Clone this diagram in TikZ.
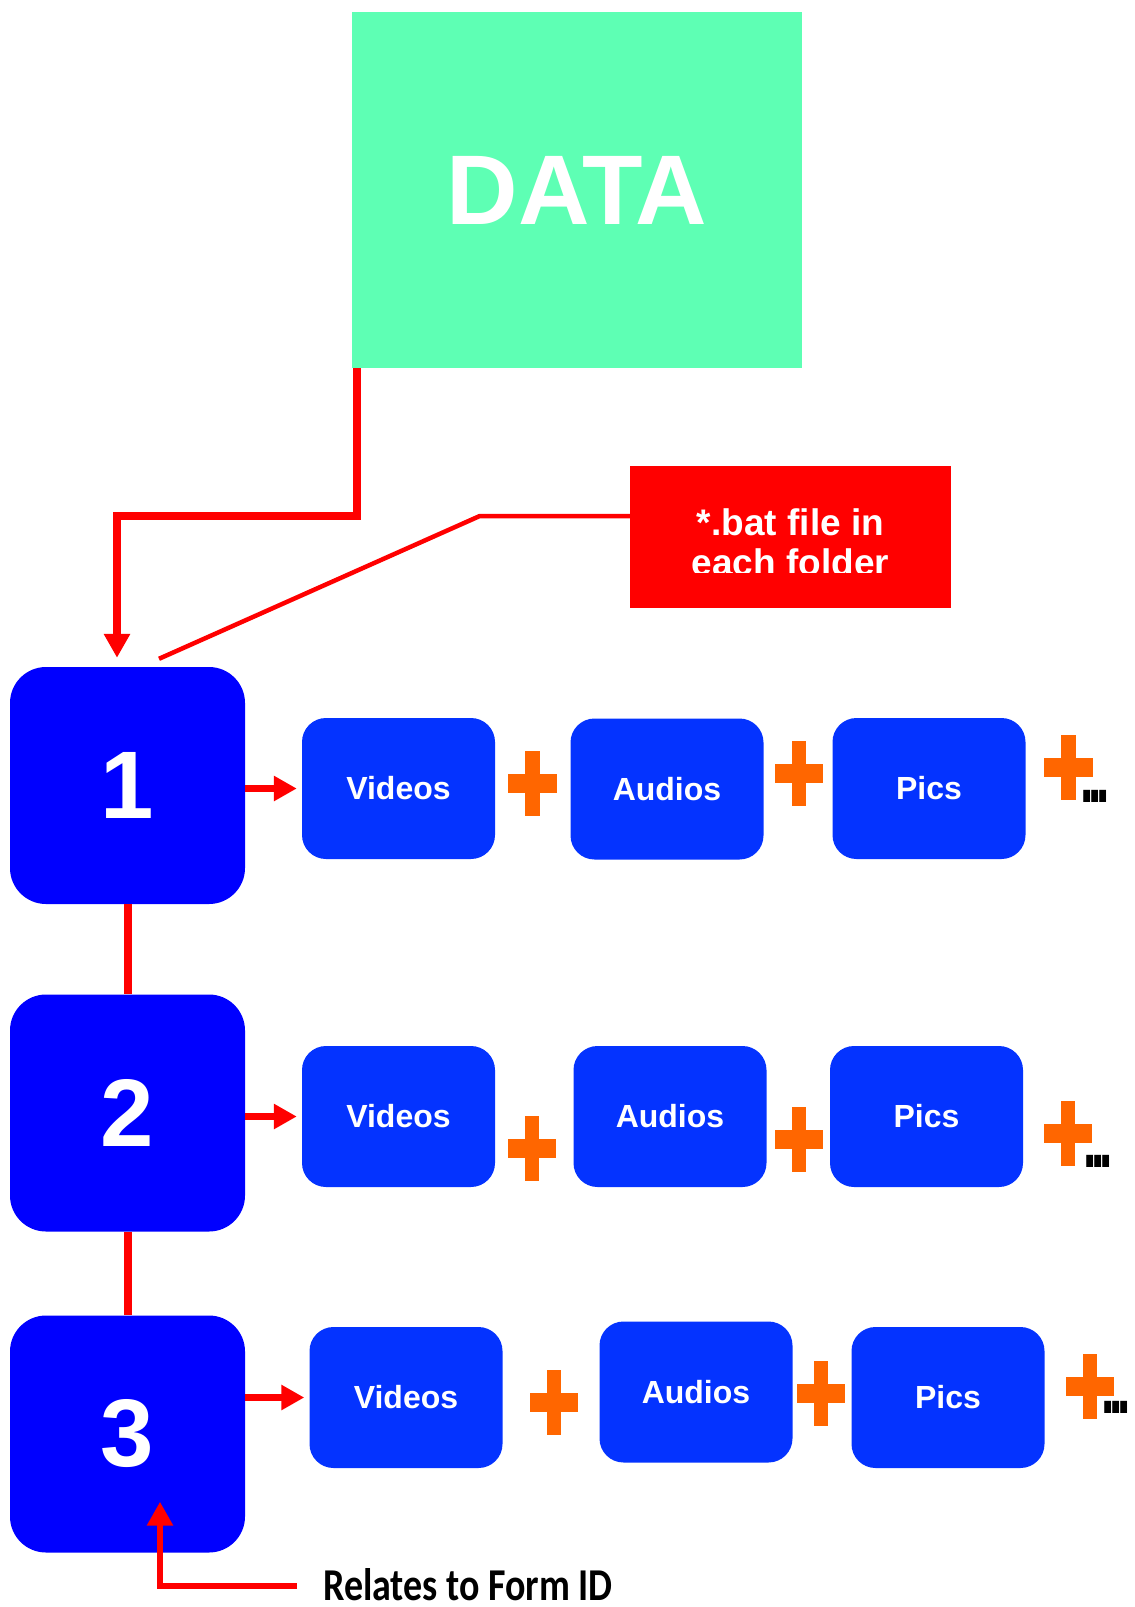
\documentclass[tikz,border=0pt]{standalone}
\usepackage{fontspec}
\setmainfont{Liberation Sans}
\newfontfamily\labelfont{Carlito}
\usetikzlibrary{arrows.meta,calc}

\definecolor{datagreen}{HTML}{5EFFB4}
\definecolor{folderblue}{HTML}{0000FF}
\definecolor{mediablue}{HTML}{0433FF}
\definecolor{plusorange}{HTML}{FF6600}
\definecolor{linkred}{HTML}{FF0000}

\tikzset{
  databox/.style={fill=datagreen, minimum width=450pt, minimum height=356pt,
    inner sep=0pt, text=white, font=\bfseries\fontsize{99}{110}\selectfont},
  batbox/.style={fill=linkred, minimum width=321pt, minimum height=142pt, inner sep=0pt},
  battext/.style={text=white, align=center, inner sep=0pt,
    font=\bfseries\fontsize{37}{40}\selectfont},
  folder/.style={fill=folderblue, rounded corners=36pt, minimum width=235pt,
    minimum height=237pt, inner sep=0pt, text=white,
    font=\bfseries\fontsize{96}{110}\selectfont},
  media/.style={fill=mediablue, rounded corners=24pt, minimum width=193pt,
    minimum height=141pt, inner sep=0pt, text=white,
    font=\bfseries\fontsize{32}{38}\selectfont},
  moredots/.style={inner sep=0pt, text=black, font=\bfseries\fontsize{48}{48}\selectfont},
  formlabel/.style={inner sep=0pt, text=black, font=\labelfont\bfseries\fontsize{38}{44}\selectfont},
  feed/.style={draw=linkred, line width=7.5pt, line join=miter,
    -{Triangle[length=24pt,width=25pt]}},
  note/.style={draw=linkred, line width=4.5pt},
  chain/.style={draw=linkred, line width=8pt},
  mediaarrow/.style={draw=linkred, line width=7pt, shorten >=5pt,
    -{Triangle[length=23pt,width=24pt]}},
  orangeplus/.pic={
    \fill[plusorange] (-24.25,-9.5) rectangle (24.25,9.5);
    \fill[plusorange] (-7.15,-32.5) rectangle (7.15,32.5);
  }
}

\begin{document}
\begin{tikzpicture}[x=1pt,y=-1pt]
\useasboundingbox (0,0) rectangle (1135,1607);

% source data and the batch-file note
\node[databox] (data) at (577,190) {DATA};
\node[batbox] (bat) at (790.5,537) {};
\begin{scope}
  \clip (bat.north west) rectangle ($(bat.east)+(0,35)$);
  \node[battext, anchor=north] (battxt) at (790.5,508) {*.bat file in\\each folder};
\end{scope}

% numbered folders
\node[folder] (one)   at (127.5,785.5) {1};
\node[folder] (two)   at (127.5,1113)  {2};
\node[folder] (three) at (127.5,1434)  {3};

% media contents of each folder
\node[media] (vid1) at (398.5,788.5) {Videos};
\node[media] (aud1) at (667,789)     {Audios};
\node[media] (pic1) at (929,788.5)   {Pics};

\node[media] (vid2) at (398.5,1116.5) {Videos};
\node[media] (aud2) at (670,1116.5)   {Audios};
\node[media] (pic2) at (926.5,1116.5) {Pics};

\node[media] (vid3) at (406,1397.5) {Videos};
\node[media] (aud3) at (696,1392)   {Audios};
\node[media] (pic3) at (948,1397.5) {Pics};

% plus signs between the media boxes
\pic at (532.5,783)  {orangeplus};
\pic at (799,773.5)  {orangeplus};
\pic at (1068.5,767.5) {orangeplus};
\pic at (532,1148.5) {orangeplus};
\pic at (799,1139.5) {orangeplus};
\pic at (1068,1133.5) {orangeplus};
\pic at (554,1402)   {orangeplus};
\pic at (821,1393)   {orangeplus};
\pic at (1090,1386.5) {orangeplus};

\node[moredots] (more1) at (1095,796)  {\scalebox{1}[1.7]{.\kern-5.4pt.\kern-5.4pt.}};
\node[moredots] (more2) at (1098,1161) {\scalebox{1}[1.7]{.\kern-5.4pt.\kern-5.4pt.}};
\node[moredots] (more3) at (1116,1407) {\scalebox{1}[1.7]{.\kern-5.4pt.\kern-5.4pt.}};

% label at the bottom
\node[formlabel, anchor=base west] (label) at (323,1600)
  {\scalebox{1}[1.2]{Relates to Form ID}};

% connectors
\coordinate (elbow) at (117,516);
\draw[feed, shorten >=9pt] ($(data.south west)+(5,0)$) |- (elbow) -- (elbow |- one.north);
\draw[note] ($(bat.west)+(0,-21)$) -- ++(-150,0) -- ($(one.north)+(31.5,-8)$);

\draw[chain] (one.south) -- (two.north);
\draw[chain] (two.south) -- (three.north);

\draw[mediaarrow] (one.east |- vid1.west) -- (vid1.west);
\draw[mediaarrow] (two.east |- vid2.west) -- (vid2.west);
\draw[mediaarrow] (three.east |- vid3.west) -- (vid3.west);

\draw[feed, line width=6pt] ($(label.west)+(-26,2)$) -| ($(three.south)+(32.5,-51)$);
\end{tikzpicture}
\end{document}
